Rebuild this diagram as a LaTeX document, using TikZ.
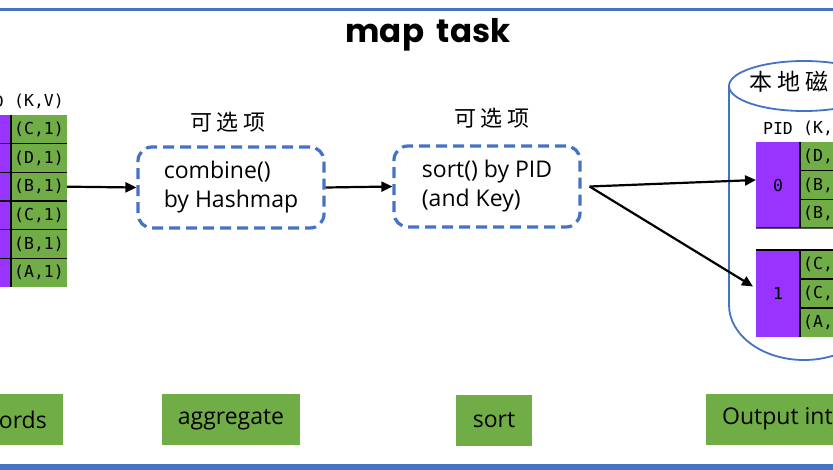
\documentclass[tikz,border=0pt]{standalone}
\usepackage{fontspec}
\setmainfont{Open Sans}
\newfontfamily\cjkfont{Noto Sans CJK SC}
\newfontfamily\monofont{DejaVu Sans Mono}
\newfontfamily\titlefont{Poppins}
\usetikzlibrary{arrows.meta,positioning}
\definecolor{mblue}{HTML}{4472C4}
\definecolor{mgreen}{HTML}{70AD47}
\definecolor{mpurple}{HTML}{9933FF}
\begin{document}
\begin{tikzpicture}[x=1pt,y=-1pt,
  cell/.style={fill=mgreen, minimum width=56pt, minimum height=28.67pt, inner sep=0pt, outer sep=0pt, font=\monofont\fontsize{16.5}{16.5}\selectfont},
  purp/.style={fill=mpurple, minimum width=44pt, inner sep=0pt, outer sep=0pt, font=\monofont\fontsize{16.5}{16.5}\selectfont},
  hdr/.style={inner sep=0pt, font=\monofont\fontsize{16.5}{16.5}\selectfont},
  sep/.style={draw=black, line width=1.3pt},
  dbox/.style={draw=mblue, line width=3.2pt, dash pattern=on 11pt off 6pt, rounded corners=14pt, minimum width=186pt, minimum height=81pt, align=left, font=\fontsize{23}{29}\selectfont},
  opt/.style={inner sep=0pt, font=\cjkfont\fontsize{22}{22}\selectfont},
  arr/.style={draw=black, line width=2.2pt, -{Triangle[length=11pt,width=10pt]}},
  lab/.style={fill=mgreen, minimum height=51pt, inner xsep=16pt, inner ysep=0pt, font=\fontsize{23}{23}\selectfont},
  cyl/.style={draw=mblue, line width=1.8pt}
]
\clip (0,0) rectangle (833,469);
\fill[white] (0,0) rectangle (833,469);

% frame lines
\draw[mblue, line width=3pt] (0,9.5) -- (833,9.5);
\draw[mblue, line width=6pt] (0,466.5) -- (833,466.5);

% title
\node (title) at (428,35) {\titlefont\bfseries\fontsize{32.5}{32.5}\selectfont map\hspace{6pt} task};

% left table
\node[hdr] (lh0) at (-11,101) {PID};
\node[hdr] (lh1) at (39,101) {(K,V)};
\foreach [count=\i] \t in {{(C,1)},{(D,1)},{(B,1)},{(C,1)},{(B,1)},{(A,1)}} {
  \node[purp, minimum height=28.67pt] (pl\i) at (-11,{115+(\i-0.5)*28.67}) {};
  \node[cell] (l\i) at (39,{115+(\i-0.5)*28.67}) {\t};
}
\foreach \i in {1,...,5} { \draw[sep] (pl\i.south west) -- (l\i.south east); }
\draw[sep] (l1.north west) -- (l6.south west);

% optional boxes
\node[dbox] (b1) at (231,187.5) {combine()\\by Hashmap};
\node[dbox] (b2) at (487,186.5) {sort() by PID\\(and Key)};
\node[opt] (o1) at (228,122) {可\hspace{5pt}选\hspace{5pt}项};
\node[opt] (o2) at (492,118) {可\hspace{5pt}选\hspace{5pt}项};

% disk cylinder
\draw[cyl] (804,86) ellipse [x radius=75pt, y radius=25pt];
\draw[cyl] (729,86) -- (729,305) arc[start angle=180, end angle=360, x radius=75pt, y radius=55pt] -- (879,86);
\node[opt, anchor=west, font=\cjkfont\fontsize{23}{23}\selectfont] (disk) at (749,82) {本\hspace{5pt}地\hspace{5pt}磁\hspace{5pt}盘};

% partitions
\node[hdr] (rh0) at (778,128) {PID};
\node[hdr] (rh1) at (828,128) {(K,V)};
\node[purp, minimum height=86pt] (p0) at (778,185) {0};
\foreach [count=\i] \t in {{(D,1)},{(B,1)},{(B,1)}} {
  \node[cell] (ra\i) at (828,{142+(\i-0.5)*28.67}) {\t};
}
\node[purp, minimum height=87pt] (p1) at (778,293.5) {1};
\foreach [count=\i] \t in {{(C,1)},{(C,1)},{(A,1)}} {
  \node[cell, minimum height=29pt] (rb\i) at (828,{250+(\i-0.5)*29}) {\t};
}
\draw[sep] (ra1.north west) -- (ra3.south west);
\draw[sep] (ra1.south west) -- (ra1.south east);
\draw[sep] (ra2.south west) -- (ra2.south east);
\draw[sep] (p0.south west) -- (ra3.south east);
\draw[sep] (p1.north west) -- (rb1.north east);
\draw[sep] (rb1.north west) -- (rb3.south west);
\draw[sep] (rb1.south west) -- (rb1.south east);
\draw[sep] (rb2.south west) -- (rb2.south east);

% arrows
\draw[arr] (l3.east) -- (b1.west);
\draw[arr] (b1.east) -- (b2.west);
\coordinate (s) at ([xshift=8pt]b2.east);
\draw[arr] (s) -- ([yshift=5pt]p0.west);
\draw[arr] (s) -- ([xshift=-3pt,yshift=7pt]p1.west);

% bottom labels
\node[lab, anchor=east] (lb1) at (63,419.5) {Records};
\node[lab, minimum width=138pt] (lb2) at (231,419.5) {aggregate};
\node[lab, minimum width=76pt] (lb3) at (494,420) {sort};
\node[lab, anchor=west] (lb4) at (706,419) {Output into disk};
\end{tikzpicture}
\end{document}
